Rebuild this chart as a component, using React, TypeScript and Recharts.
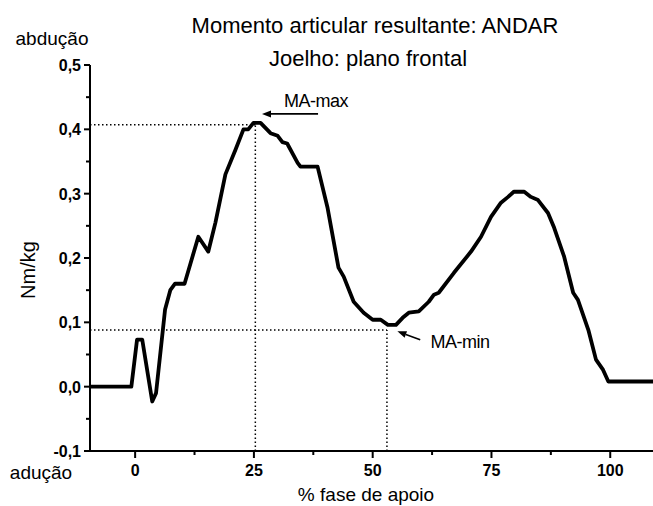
import { Line, LineChart, ReferenceLine, XAxis, YAxis } from "recharts";

// % da fase de apoio e momento (Nm/kg)
const phase = [
  -9.5, -0.8, 0.4, 1.5, 3.6, 4.4, 6.3, 7.4, 8.4, 10.4, 13.3, 15.4, 16.9, 19,
  21.1, 22.8, 23.8, 24.9, 26.4, 28.5, 30, 31, 32, 34.2, 34.8, 38.4, 40.5, 42.8,
  43.9, 46, 48.1, 50, 51.7, 53.2, 54.9, 56.3, 57.6, 59.7, 61.8, 62.9, 63.9,
  67.1, 70.7, 72.8, 74.9, 77, 78.5, 79.7, 81.9, 83.3, 84.8, 86.9, 88.2, 90.3,
  92.2, 93.2, 95.4, 97, 98.5, 99.6, 109,
];
const moment = [
  0, 0, 0.073, 0.073, -0.023, -0.01, 0.12, 0.15, 0.16, 0.16, 0.233, 0.21,
  0.255, 0.33, 0.368, 0.4, 0.4, 0.41, 0.41, 0.394, 0.39, 0.38, 0.378, 0.348,
  0.342, 0.342, 0.278, 0.185, 0.171, 0.132, 0.115, 0.104, 0.104, 0.096, 0.096,
  0.107, 0.115, 0.117, 0.132, 0.143, 0.146, 0.177, 0.21, 0.233, 0.264, 0.286,
  0.295, 0.303, 0.303, 0.295, 0.29, 0.27, 0.247, 0.202, 0.146, 0.135, 0.088,
  0.042, 0.026, 0.008, 0.008,
];

const xMajor = [0, 25, 50, 75, 100];
const xMinor = [12.5, 37.5, 62.5, 87.5];
const yMajor = [-0.1, 0, 0.1, 0.2, 0.3, 0.4, 0.5];
const yMinor = [-0.05, 0.05, 0.15, 0.25, 0.35, 0.45];

const maPoint = { x: 25.3, y: 0.407 };
const miPoint = { x: 53, y: 0.088 };
const maArrow = [{ x: 38.5, y: 0.424 }, { x: 26.7, y: 0.424 }];
const miArrow = [{ x: 60, y: 0.073 }, { x: 55.2, y: 0.086 }];

const data = phase.map((x, i) => ({ x, y: moment[i] }));

const font = "'Liberation Sans', Arial, sans-serif";

function XTick({ x, y, payload }: any) {
  const major = xMajor.includes(payload.value);
  return (
    <g>
      <line x1={x} x2={x} y1={y} y2={y + (major ? 7 : 4)} stroke="#000" strokeWidth={2} />
      {major && (
        <text x={x} y={y + 25} textAnchor="middle" fontFamily={font} fontWeight="bold" fontSize={16} fill="#000">
          {payload.value}
        </text>
      )}
    </g>
  );
}

function YTick({ x, y, payload }: any) {
  const major = yMajor.includes(payload.value);
  return (
    <g>
      <line x1={x} x2={x - (major ? 6 : 4)} y1={y} y2={y} stroke="#000" strokeWidth={2} />
      {major && (
        <text x={x - 9} y={y + 6} textAnchor="end" fontFamily={font} fontWeight="bold" fontSize={16} fill="#000">
          {payload.value.toFixed(1).replace(".", ",")}
        </text>
      )}
    </g>
  );
}

function Arrow(props: any) {
  const { x1, y1, x2, y2 } = props;
  const a = Math.atan2(y2 - y1, x2 - x1);
  const L = 9;
  const W = 3.5;
  const bx = x2 - L * Math.cos(a);
  const by = y2 - L * Math.sin(a);
  const p1 = `${bx - W * Math.sin(a)},${by + W * Math.cos(a)}`;
  const p2 = `${bx + W * Math.sin(a)},${by - W * Math.cos(a)}`;
  return (
    <g>
      <line x1={x1} y1={y1} x2={bx} y2={by} stroke="#000" strokeWidth={1.6} />
      <polygon points={`${x2},${y2} ${p1} ${p2}`} fill="#000" />
    </g>
  );
}

const txt = (left: number, top: number, size: number, extra: any = {}) => ({
  position: "absolute" as const,
  left,
  top,
  transform: "translate(-50%, -50%)",
  fontFamily: font,
  fontSize: size,
  lineHeight: 1,
  whiteSpace: "nowrap" as const,
  color: "#000",
  ...extra,
});

export default function App() {
  return (
    <div style={{ position: "absolute", left: 0, top: 0, width: 653, height: 506, background: "#fff" }}>
      <LineChart width={653} height={506} data={data} margin={{ top: 65, right: 0, bottom: 0, left: 0 }}>
        <XAxis
          type="number"
          dataKey="x"
          domain={[-9.5, 109]}
          ticks={[...xMajor, ...xMinor]}
          interval={0}
          height={55}
          tickSize={0}
          tickMargin={0}
          tickLine={false}
          axisLine={{ stroke: "#000", strokeWidth: 2 }}
          tick={<XTick />}
        />
        <YAxis
          type="number"
          dataKey="y"
          domain={[-0.1, 0.5]}
          ticks={[...yMajor, ...yMinor]}
          interval={0}
          width={90}
          tickSize={0}
          tickMargin={0}
          tickLine={false}
          axisLine={{ stroke: "#000", strokeWidth: 2 }}
          tick={<YTick />}
        />
        <ReferenceLine
          segment={[{ x: -9.5, y: maPoint.y }, { x: maPoint.x, y: maPoint.y }]}
          stroke="#000"
          strokeWidth={1.5}
          strokeDasharray="1.5 2.5"
        />
        <ReferenceLine
          segment={[{ x: maPoint.x, y: -0.1 }, { x: maPoint.x, y: maPoint.y }]}
          stroke="#000"
          strokeWidth={1.5}
          strokeDasharray="1.5 2.5"
        />
        <ReferenceLine
          segment={[{ x: -9.5, y: miPoint.y }, { x: miPoint.x, y: miPoint.y }]}
          stroke="#000"
          strokeWidth={1.5}
          strokeDasharray="1.5 2.5"
        />
        <ReferenceLine
          segment={[{ x: miPoint.x, y: -0.1 }, { x: miPoint.x, y: miPoint.y }]}
          stroke="#000"
          strokeWidth={1.5}
          strokeDasharray="1.5 2.5"
        />
        <ReferenceLine segment={maArrow} shape={<Arrow />} />
        <ReferenceLine segment={miArrow} shape={<Arrow />} />
        <Line
          type="linear"
          dataKey="y"
          stroke="#000"
          strokeWidth={3.8}
          strokeLinejoin="round"
          dot={false}
          isAnimationActive={false}
        />
      </LineChart>

      <div style={txt(375, 26, 22)}>Momento articular resultante: ANDAR</div>
      <div style={txt(368, 59, 22)}>Joelho: plano frontal</div>
      <div style={txt(52, 38, 19)}>abdução</div>
      <div style={txt(41, 472, 19)}>adução</div>
      <div style={txt(28, 270, 20, { transform: "translate(-50%, -50%) rotate(-90deg)" })}>Nm/kg</div>
      <div style={txt(366, 494, 19)}>% fase de apoio</div>
      <div style={txt(316, 101, 18, { letterSpacing: -0.5 })}>MA-max</div>
      <div style={txt(460, 342, 18, { letterSpacing: -0.5 })}>MA-min</div>
    </div>
  );
}
